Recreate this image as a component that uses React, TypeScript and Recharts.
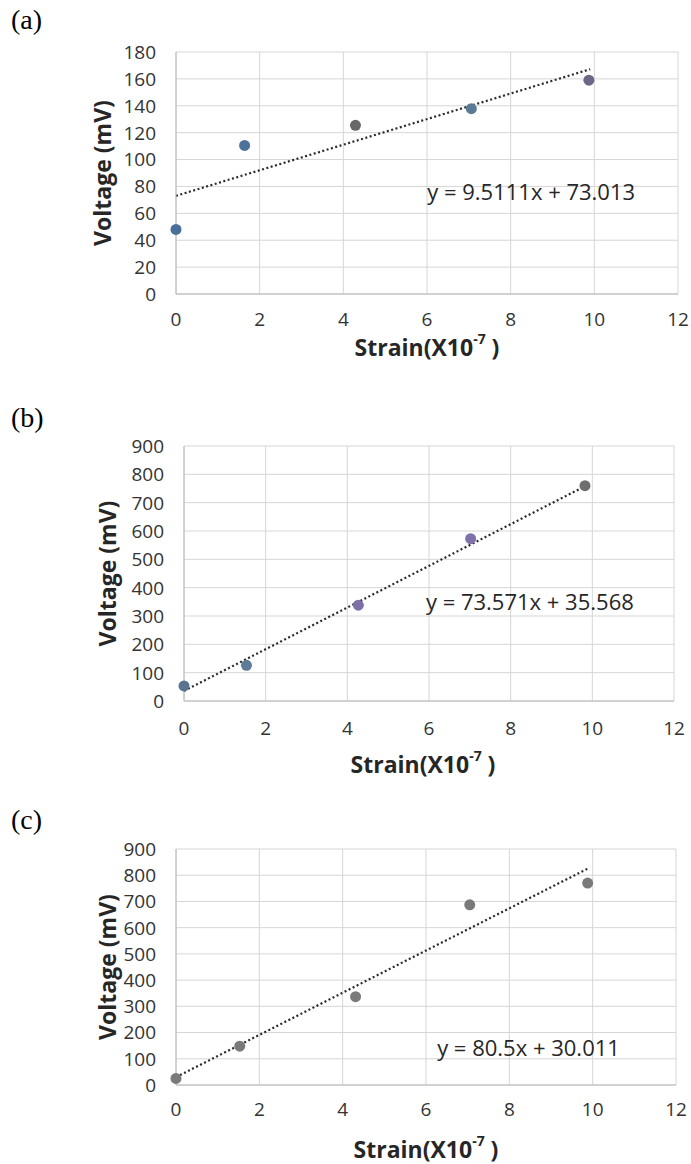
import React from 'react';
import { ScatterChart, Scatter, XAxis, YAxis, CartesianGrid, ReferenceLine, ReferenceDot, Cell, Label } from 'recharts';

// strain axis (x10^-7) shared by all three panels
const strainTicks = [0, 2, 4, 6, 8, 10, 12];
const voltTicksA = [0, 20, 40, 60, 80, 100, 120, 140, 160, 180];
const voltTicksBC = [0, 100, 200, 300, 400, 500, 600, 700, 800, 900];

// (a)
const strainA = [0, 1.64, 4.29, 7.06, 9.87];
const voltA = [48, 110.5, 125.5, 137.8, 159];
const trendA = [{ x: 0, y: 73.0 }, { x: 9.9, y: 167.2 }];
const eqA = 'y = 9.5111x + 73.013';

// (b)
const strainB = [0, 1.53, 4.27, 7.02, 9.82];
const voltB = [53, 126, 338, 573, 760];
const trendB = [{ x: 0, y: 35.6 }, { x: 9.82, y: 758 }];
const eqB = 'y = 73.571x + 35.568';

// (c)
const strainC = [0, 1.53, 4.31, 7.05, 9.88];
const voltC = [25, 148, 337, 687, 770];
const trendC = [{ x: 0, y: 30.0 }, { x: 9.88, y: 825 }];
const eqC = 'y = 80.5x + 30.011';

const colorsA = ['#4a6e9a', '#4c729c', '#676767', '#5b7a95', '#6b6784'];
const colorsB = ['#5a7390', '#5c7b98', '#7b70a8', '#7e72aa', '#6e6e6e'];
const colorsC = ['#7a7a7a', '#7a7a7a', '#7a7a7a', '#7a7a7a', '#7a7a7a'];

const FONT = '"Open Sans", sans-serif';

const dot = (p: any) => <circle cx={p.cx} cy={p.cy} r={5.5} fill={p.fill} />;

// custom tick so size and colour are under our control
const xTick = (p: any) => (
    <text x={p.x} y={p.y} dy="0.71em" textAnchor="middle" fill="#333333" fontSize={19} fontFamily={FONT}>
        {p.payload.value}
    </text>
);
const yTick = (p: any) => (
    <text x={p.x} y={p.y} dy="0.36em" textAnchor="end" fill="#333333" fontSize={19} fontFamily={FONT}>
        {p.payload.value}
    </text>
);

const xTitle = (dx: number, dy: number) => (props: any) => {
    const vb = props.viewBox;
    const cx = vb.x + vb.width / 2 + dx;
    const cy = vb.y + dy;
    return (
        <text x={cx} y={cy} textAnchor="middle" dominantBaseline="central"
            fontFamily={FONT} fontWeight="bold" fontSize={23} fill="#262626">
            Strain(X10<tspan dy={-9} fontSize={14}>-7</tspan><tspan dy={9}> )</tspan>
        </text>
    );
};

const yTitle = (props: any) => {
    const vb = props.viewBox;
    const cx = vb.x + vb.width / 2;
    const cy = vb.y + vb.height / 2;
    return (
        <text x={cx} y={cy} textAnchor="middle" dominantBaseline="central"
            transform={`rotate(-90, ${cx}, ${cy})`}
            fontFamily={FONT} fontWeight="bold" fontSize={23} fill="#262626">
            Voltage (mV)
        </text>
    );
};

interface PanelProps {
    tag: string
    top: number
    height: number
    tagTop: number
    margin: { top: number, right: number, bottom: number, left: number }
    yWidth: number
    yMax: number
    yTicks: number[]
    xs: number[]
    ys: number[]
    colors: string[]
    trend: { x: number, y: number }[]
    equation: string
    eqX: number
    eqY: number
    xTickMargin: number
    titleDx: number
    titleDy: number
}

function Panel(p: PanelProps) {
    const data = p.xs.map((x, i) => ({ x: x, y: p.ys[i] }));
    return (
        <div style={{ position: 'absolute', left: 0, top: p.top, width: 691, height: p.height }}>
            <div style={{ position: 'absolute', left: 11, top: p.tagTop, fontFamily: '"Liberation Serif", serif', fontSize: 28 }}>{p.tag}</div>
            <ScatterChart width={691} height={p.height} margin={p.margin}>
                <CartesianGrid stroke="#d6d6d6" />
                <XAxis type="number" dataKey="x" domain={[0, 12]} ticks={strainTicks} interval={0}
                    tickSize={0} tickMargin={p.xTickMargin} tickLine={false} height={40}
                    axisLine={{ stroke: '#b8b8b8' }} tick={xTick}>
                    <Label content={xTitle(p.titleDx, p.titleDy)} />
                </XAxis>
                <YAxis type="number" dataKey="y" domain={[0, p.yMax]} ticks={p.yTicks} interval={0}
                    tickSize={0} tickMargin={20} tickLine={false} width={p.yWidth}
                    axisLine={{ stroke: '#b8b8b8' }} tick={yTick}>
                    <Label content={yTitle} />
                </YAxis>
                <ReferenceLine segment={p.trend} stroke="#2a2a2a" strokeWidth={2.2} strokeDasharray="2 2.5" />
                <Scatter data={data} isAnimationActive={false} shape={dot}>
                    {data.map((d, i) => <Cell key={i} fill={p.colors[i]} />)}
                </Scatter>
                <ReferenceDot x={p.eqX} y={p.eqY} r={1} fill="none" stroke="none"
                    label={{ value: p.equation, position: 'center', fill: '#262626', fontSize: 22, fontFamily: FONT }} />
            </ScatterChart>
        </div>
    );
}

export default function App() {
    return (
        <div style={{ position: 'absolute', left: 0, top: 0, width: 691, height: 1164, background: '#fff' }}>
            <Panel tag="(a)" top={0} height={380} tagTop={4}
                margin={{ top: 52, right: 13, bottom: 46, left: 28 }} yWidth={148}
                yMax={180} yTicks={voltTicksA} xs={strainA} ys={voltA} colors={colorsA}
                trend={trendA} equation={eqA} eqX={8.49} eqY={76}
                xTickMargin={19} titleDx={0} titleDy={53} />
            <Panel tag="(b)" top={390} height={400} tagTop={12}
                margin={{ top: 56, right: 17, bottom: 49, left: 30 }} yWidth={154}
                yMax={900} yTicks={voltTicksBC} xs={strainB} ys={voltB} colors={colorsB}
                trend={trendB} equation={eqB} eqX={8.47} eqY={348}
                xTickMargin={21} titleDx={-6} titleDy={63} />
            <Panel tag="(c)" top={800} height={364} tagTop={4}
                margin={{ top: 49, right: 15, bottom: 39, left: 38 }} yWidth={138}
                yMax={900} yTicks={voltTicksBC} xs={strainC} ys={voltC} colors={colorsC}
                trend={trendC} equation={eqC} eqX={8.46} eqY={141}
                xTickMargin={18} titleDx={0} titleDy={64} />
        </div>
    );
}
